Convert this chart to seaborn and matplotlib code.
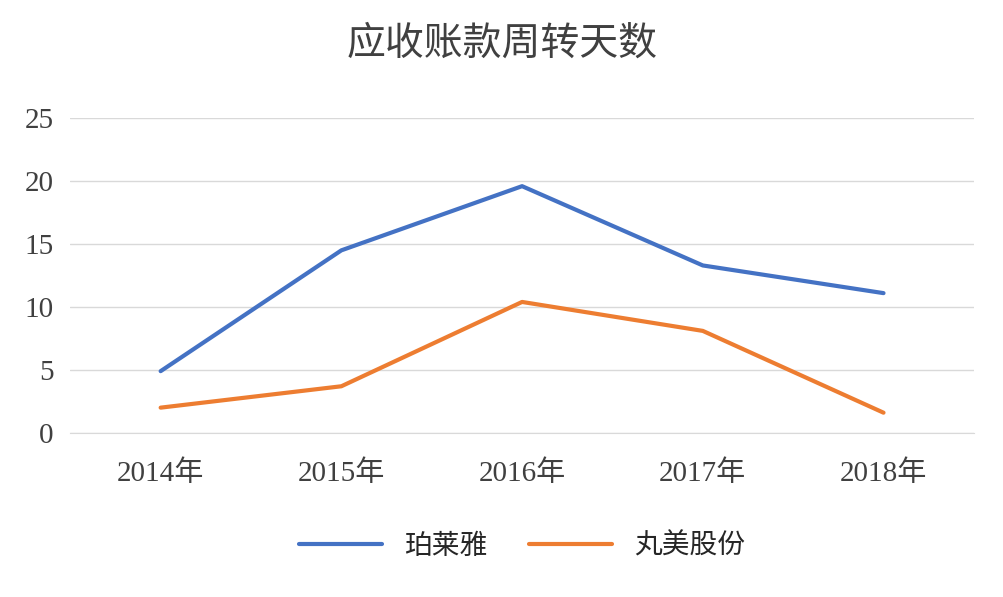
import matplotlib
matplotlib.use('Agg')
import matplotlib.pyplot as plt
import seaborn as sns
import pandas as pd

years = ['2014年', '2015年', '2016年', '2017年', '2018年']
plaisir = [4.9, 14.5, 19.6, 13.3, 11.1]
wanmei = [2.0, 3.7, 10.4, 8.1, 1.6]

df = pd.DataFrame({'year': years * 2,
                   'days': plaisir + wanmei,
                   'name': ['珀莱雅'] * 5 + ['丸美股份'] * 5})

sns.set_style('white')
plt.rcParams['font.family'] = ['Liberation Serif', 'Noto Sans CJK SC', 'DejaVu Sans']

fig = plt.figure(figsize=(10.04, 5.97), dpi=100)
ax = fig.add_axes([0.07, 0.275, 0.9, 0.527])
sns.lineplot(data=df, x='year', y='days', hue='name', sort=False,
             palette=['#4472C4', '#ED7D31'], linewidth=3, ax=ax)

ax.set_ylim(0, 25)
ax.set_xlim(-0.5, 4.5)
ax.set_yticks(range(0, 26, 5))
ax.yaxis.grid(True, color='#d9d9d9', linewidth=1)
for s in ['top', 'right', 'left']:
    ax.spines[s].set_visible(False)
ax.spines['bottom'].set_color('#d9d9d9')
ax.tick_params(axis='both', labelsize=21, colors='#404040', length=0, pad=12)
ax.tick_params(axis='x', pad=20)
ax.set_xlabel('')
ax.set_ylabel('')
ax.legend(loc='upper center', bbox_to_anchor=(0.5, -0.24), ncol=2, frameon=False,
          fontsize=20, handlelength=3, columnspacing=1.5)
fig.text(0.5, 0.925, '应收账款周转天数', ha='center', va='center', fontsize=28, color='#404040')
fig.savefig('out.png')
